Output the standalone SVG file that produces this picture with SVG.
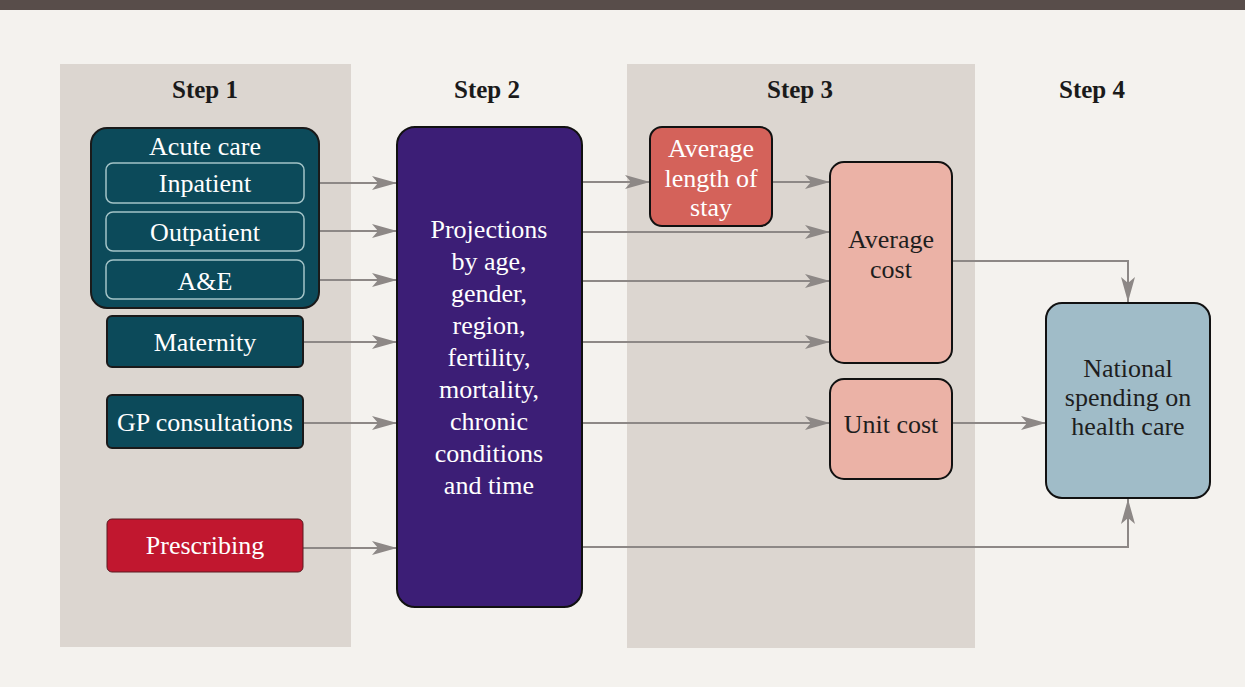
<svg xmlns="http://www.w3.org/2000/svg" width="1245" height="687" viewBox="0 0 1245 687">
<defs>
<marker id="ah" markerUnits="userSpaceOnUse" viewBox="0 0 25 14" refX="25" refY="7" markerWidth="25" markerHeight="14" orient="auto">
<path d="M0,0 L25,7 L0,14 L6,7 Z" fill="#8d8886"/>
</marker>
<style>
text{font-family:"Liberation Serif","DejaVu Serif",serif;text-anchor:middle}
.step{font-size:25px;font-weight:bold;fill:#1a1a1a}
.w{fill:#ffffff;font-size:26px}
.k{fill:#1e1e1e;font-size:26px}
.panel{fill:#dcd6d0}
.teal{fill:#0c4a5a;stroke:#1a1a1a;stroke-width:2}
.inner{fill:none;stroke:#a3c3c7;stroke-width:1.5}
.conn{fill:none;stroke:#8d8886;stroke-width:2;marker-end:url(#ah)}
</style>
</defs>
<rect width="1245" height="687" fill="#f4f2ee"/>
<rect x="0" y="0" width="1245" height="10" fill="#584d4a"/>
<rect class="panel" x="60" y="64" width="291" height="583"/>
<rect class="panel" x="627" y="64" width="348" height="584"/>
<text class="step" x="205" y="98">Step 1</text>
<text class="step" x="487" y="98">Step 2</text>
<text class="step" x="800" y="98">Step 3</text>
<text class="step" x="1092" y="98">Step 4</text>

<g id="connectors">
<line class="conn" x1="304" y1="183" x2="397" y2="183"/>
<line class="conn" x1="304" y1="231" x2="397" y2="231"/>
<line class="conn" x1="304" y1="280" x2="397" y2="280"/>
<line class="conn" x1="303" y1="342" x2="397" y2="342"/>
<line class="conn" x1="303" y1="423" x2="397" y2="423"/>
<line class="conn" x1="303" y1="548" x2="397" y2="548"/>
<line class="conn" x1="582" y1="182" x2="650" y2="182"/>
<line class="conn" x1="772" y1="182" x2="830" y2="182"/>
<line class="conn" x1="582" y1="232" x2="830" y2="232"/>
<line class="conn" x1="582" y1="281" x2="830" y2="281"/>
<line class="conn" x1="582" y1="342" x2="830" y2="342"/>
<line class="conn" x1="582" y1="423" x2="830" y2="423"/>
<line class="conn" x1="952" y1="423" x2="1046" y2="423"/>
<polyline class="conn" points="952,261 1128,261 1128,302"/>
<polyline class="conn" points="582,547 1128,547 1128,499"/>
</g>

<g id="acute-care">
<rect class="teal" x="91" y="128" width="228" height="180" rx="16"/>
<text class="w" x="205" y="155">Acute care</text>
</g>
<g id="inpatient">
<rect class="inner" x="106" y="163" width="198" height="40" rx="7"/>
<text class="w" x="205" y="192">Inpatient</text>
</g>
<g id="outpatient">
<rect class="inner" x="106" y="212" width="198" height="39" rx="7"/>
<text class="w" x="205" y="241">Outpatient</text>
</g>
<g id="ae">
<rect class="inner" x="106" y="260" width="198" height="39" rx="7"/>
<text class="w" x="205" y="290">A&amp;E</text>
</g>
<g id="maternity">
<rect class="teal" x="107" y="316" width="196" height="51" rx="5" stroke-width="1.5"/>
<text class="w" x="205" y="351">Maternity</text>
</g>
<g id="gp">
<rect class="teal" x="107" y="395" width="196" height="53" rx="5" stroke-width="1"/>
<text class="w" x="205" y="431">GP consultations</text>
</g>
<g id="prescribing">
<rect x="107" y="519" width="196" height="53" rx="5" fill="#c1172f" stroke="#5a1a20" stroke-width="1"/>
<text class="w" x="205" y="554">Prescribing</text>
</g>
<g id="projections">
<rect x="397" y="127" width="185" height="480" rx="18" fill="#3c1e76" stroke="#111" stroke-width="2"/>
<text class="w" x="489" y="238">Projections</text>
<text class="w" x="489" y="270">by age,</text>
<text class="w" x="489" y="302">gender,</text>
<text class="w" x="489" y="334">region,</text>
<text class="w" x="489" y="366">fertility,</text>
<text class="w" x="489" y="398">mortality,</text>
<text class="w" x="489" y="430">chronic</text>
<text class="w" x="489" y="462">conditions</text>
<text class="w" x="489" y="494">and time</text>
</g>
<g id="alos">
<rect x="650" y="127" width="122" height="99" rx="12" fill="#d4625a" stroke="#111" stroke-width="2"/>
<text class="w" x="711" y="157">Average</text>
<text class="w" x="711" y="187">length of</text>
<text class="w" x="711" y="216">stay</text>
</g>
<g id="average-cost">
<rect x="830" y="162" width="122" height="201" rx="14" fill="#ebb2a6" stroke="#111" stroke-width="2"/>
<text class="k" x="891" y="248">Average</text>
<text class="k" x="891" y="278">cost</text>
</g>
<g id="unit-cost">
<rect x="830" y="379" width="122" height="100" rx="14" fill="#ebb2a6" stroke="#111" stroke-width="2"/>
<text class="k" x="891" y="433">Unit cost</text>
</g>
<g id="national">
<rect x="1046" y="303" width="164" height="195" rx="16" fill="#a0bcc8" stroke="#111" stroke-width="2"/>
<text class="k" x="1128" y="377">National</text>
<text class="k" x="1128" y="406">spending on</text>
<text class="k" x="1128" y="435">health care</text>
</g>
</svg>
